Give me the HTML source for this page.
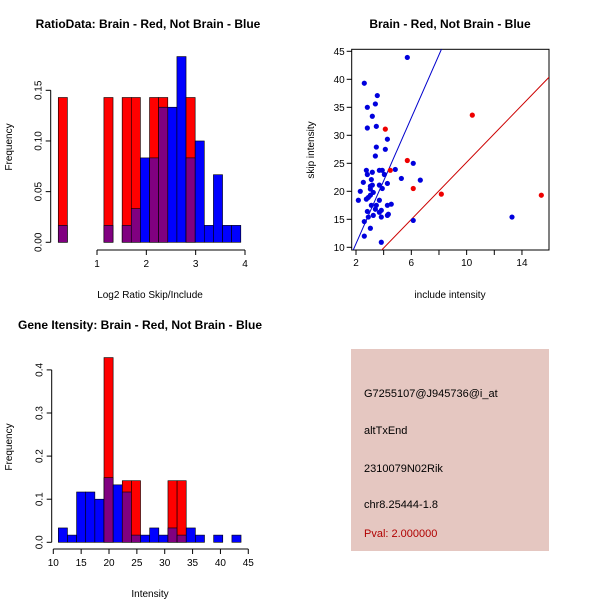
<!DOCTYPE html>
<html><head><meta charset="utf-8"><style>
body{margin:0;background:#fff}
svg{display:block;font-family:"Liberation Sans",sans-serif}
</style></head><body>
<svg id="s" width="600" height="600" viewBox="0 0 600 600" xmlns="http://www.w3.org/2000/svg">
<rect width="600" height="600" fill="#fff"/>
<text x="148" y="28" text-anchor="middle" font-size="12" font-weight="bold">RatioData: Brain - Red, Not Brain - Blue</text>
<text x="450" y="28" text-anchor="middle" font-size="12" font-weight="bold">Brain - Red, Not Brain - Blue</text>
<text x="140" y="329" text-anchor="middle" font-size="12" font-weight="bold">Gene Itensity: Brain - Red, Not Brain - Blue</text>
<text x="150" y="298" text-anchor="middle" font-size="10">Log2 Ratio Skip/Include</text>
<text transform="translate(12,147) rotate(-90)" text-anchor="middle" font-size="10">Frequency</text>
<text x="450" y="298" text-anchor="middle" font-size="10">include intensity</text>
<text transform="translate(314,150) rotate(-90)" text-anchor="middle" font-size="10">skip intensity</text>
<text x="150" y="597" text-anchor="middle" font-size="10">Intensity</text>
<text transform="translate(12,447) rotate(-90)" text-anchor="middle" font-size="10">Frequency</text>
<g>
<rect x="351" y="349" width="198" height="202" fill="#e5c7c1"/>
<text x="364" y="397" font-size="11">G7255107@J945736@i_at</text>
<text x="364" y="434" font-size="11">altTxEnd</text>
<text x="364" y="472" font-size="11">2310079N02Rik</text>
<text x="364" y="508" font-size="11">chr8.25444-1.8</text>
<text x="364" y="537" font-size="11" fill="#b00000">Pval: 2.000000</text>
</g>
</svg>
<script>
// Ratio histogram data (bin index 0..19, start 0.215, width 0.185)
const ratioBlue=[0.0167,0,0,0,0,0.0167,0,0.0167,0.0333,0.0833,0.0833,0.1333,0.1333,0.1833,0.0833,0.1,0.0167,0.0667,0.0167,0.0167];
const ratioRed=[0.1429,0,0,0,0,0.1429,0,0.1429,0.1429,0,0.1429,0.1429,0,0,0.1429,0,0,0,0,0];
const ratioXTicks=[1,2,3,4];
const ratioYTicks=[0,0.05,0.10,0.15];
const ratioYLabels=["0.00","0.05","0.10","0.15"];
// Intensity histogram data (start 10.9, width 1.64)
const intBlue=[0.0333,0.0167,0.1167,0.1167,0.1,0.15,0.1333,0.1167,0.0167,0.0167,0.0333,0.0167,0.0333,0.0167,0.0333,0.0167,0,0.0167,0,0.0167];
const intRed=[0,0,0,0,0,0.4286,0,0.1429,0.1429,0,0,0,0.1429,0.1429,0,0,0,0,0,0];
const intXTicks=[10,15,20,25,30,35,40,45];
const intYTicks=[0,0.1,0.2,0.3,0.4];
const intYLabels=["0.0","0.1","0.2","0.3","0.4"];
// Scatter data
const blueX=[5.71,2.60,3.54,2.82,3.40,3.18,2.82,3.47,4.27,3.47,4.12,3.40,6.14,4.84,2.75,3.69,3.90,2.82,3.18,4.05,3.11,5.28,6.65,2.53,4.27,3.04,3.18,3.69,3.90,2.31,3.04,3.25,3.04,2.89,2.75,2.17,3.69,3.11,3.47,4.27,4.55,2.82,3.40,3.83,3.69,3.25,4.27,2.89,3.83,4.34,2.60,6.14,13.28,3.04,2.60,3.83];
const blueY=[43.9,39.3,37.1,35.0,35.6,33.4,31.3,31.6,29.3,27.9,27.5,26.3,25.0,23.9,23.75,23.75,23.75,23.0,23.4,23.0,22.1,22.3,22.0,21.6,21.4,20.9,21.1,21.1,20.5,20.0,20.4,19.8,19.3,18.9,18.6,18.4,18.4,17.5,17.5,17.5,17.7,16.4,16.8,16.6,16.25,15.7,15.7,15.4,15.4,15.9,14.6,14.8,15.4,13.4,12.0,10.9];
const redX=[4.12,10.41,5.71,4.48,6.14,8.17,15.40];
const redY=[31.1,33.6,25.5,23.75,20.5,19.5,19.3];
const blueLine=[-0.6,5.62];
const redLine=[-0.32,2.55];
const scXTicks=[2,4,6,8,10,12,14];
const scXLabels=["2","","6","","10","","14"];
const scYTicks=[10,15,20,25,30,35,40,45];

const NS="http://www.w3.org/2000/svg";
const svg=document.getElementById('s');
function mk(tag,attrs,parent){const e=document.createElementNS(NS,tag);for(const k in attrs)e.setAttribute(k,attrs[k]);(parent||svg).appendChild(e);return e;}

function hist(blue,red,start,width,xs,ys,name,xTicks,yTicks,yLabels,axisX,axisY,xt0,xt1){
  const g=mk('g',{});
  
  
  for(let i=0;i<blue.length;i++){
    const x0=xs(start+i*width),x1=xs(start+(i+1)*width);
    const b=blue[i],r=red[i],lo=Math.min(b,r),hi=Math.max(b,r);
    if(hi>0){
      const c=b>=r?'#0000ff':'#ff0000';
      const e=mk('rect',{x:x0,y:ys(hi),width:x1-x0,height:ys(0)-ys(hi),fill:c,stroke:'#000','stroke-width':0.6},g);
      
      
    }
    if(lo>0){
      const e=mk('rect',{x:x0,y:ys(lo),width:x1-x0,height:ys(0)-ys(lo),fill:'#800080',stroke:'#000','stroke-width':0.6},g);
      
      
    }
  }
  const ax=mk('g',{stroke:'#000','stroke-width':1,fill:'none'});
  
  
  mk('line',{x1:xs(xt0),x2:xs(xt1),y1:axisY,y2:axisY},ax);
  xTicks.forEach(t=>{mk('line',{x1:xs(t),x2:xs(t),y1:axisY,y2:axisY+5},ax);
    const tx=mk('text',{x:xs(t),y:axisY+17,'text-anchor':'middle','font-size':10,fill:'#000',stroke:'none'},ax);tx.textContent=t;});
  mk('line',{x1:axisX,x2:axisX,y1:ys(yTicks[0]),y2:ys(yTicks[yTicks.length-1])},ax);
  yTicks.forEach((t,i)=>{mk('line',{x1:axisX-5,x2:axisX,y1:ys(t),y2:ys(t)},ax);
    const tx=mk('text',{transform:`translate(${axisX-9},${ys(t)}) rotate(-90)`,'text-anchor':'middle','font-size':10,fill:'#000',stroke:'none'},ax);tx.textContent=yLabels[i];});
}
hist(ratioBlue,ratioRed,0.215,0.185,v=>97+(v-1)*49.33,v=>242.3-v*1013.3,'ratio-hist',ratioXTicks,ratioYTicks,ratioYLabels,50.7,250,1,4);
hist(intBlue,intRed,10.9,1.64,v=>53.3+(v-10)*5.571,v=>542.3-v*431,'intensity-hist',intXTicks,intYTicks,intYLabels,51.7,549,10,45);

// scatter
const sx=v=>356+(v-2)*13.83, sy=v=>247.3-(v-10)*5.6;
const L=351.7,R=549,T=49.3,B=250;
const box=mk('rect',{x:L,y:T,width:R-L,height:B-T,fill:'none',stroke:'#000'});


const clip=mk('clipPath',{id:'cp'});mk('rect',{x:L,y:T,width:R-L,height:B-T},clip);
const lg=mk('g',{'clip-path':'url(#cp)'});


function line(p,c,n){const e=mk('line',{x1:sx(1),y1:sy(p[0]+p[1]*1),x2:sx(17),y2:sy(p[0]+p[1]*17),stroke:c,'stroke-width':1},lg);
  
  }
line(blueLine,'#0000cc','blue-fit-line');
line(redLine,'#cc0000','red-fit-line');
blueX.forEach((x,i)=>{const e=mk('circle',{cx:sx(x),cy:sy(blueY[i]),r:2.6,fill:'#0000dd'},lg);
  
  });
redX.forEach((x,i)=>{const e=mk('circle',{cx:sx(x),cy:sy(redY[i]),r:2.6,fill:'#ee0000'},lg);
  
  });
const sa=mk('g',{stroke:'#000',fill:'none'});


scXTicks.forEach((t,i)=>{mk('line',{x1:sx(t),x2:sx(t),y1:B,y2:B+5},sa);
  const tx=mk('text',{x:sx(t),y:B+16,'text-anchor':'middle','font-size':10,fill:'#000',stroke:'none'},sa);tx.textContent=scXLabels[i];});
scYTicks.forEach(t=>{mk('line',{x1:L-5,x2:L,y1:sy(t),y2:sy(t)},sa);
  const tx=mk('text',{x:L-7,y:sy(t)+3.5,'text-anchor':'end','font-size':10,fill:'#000',stroke:'none'},sa);tx.textContent=t;});
</script>
</body></html>
